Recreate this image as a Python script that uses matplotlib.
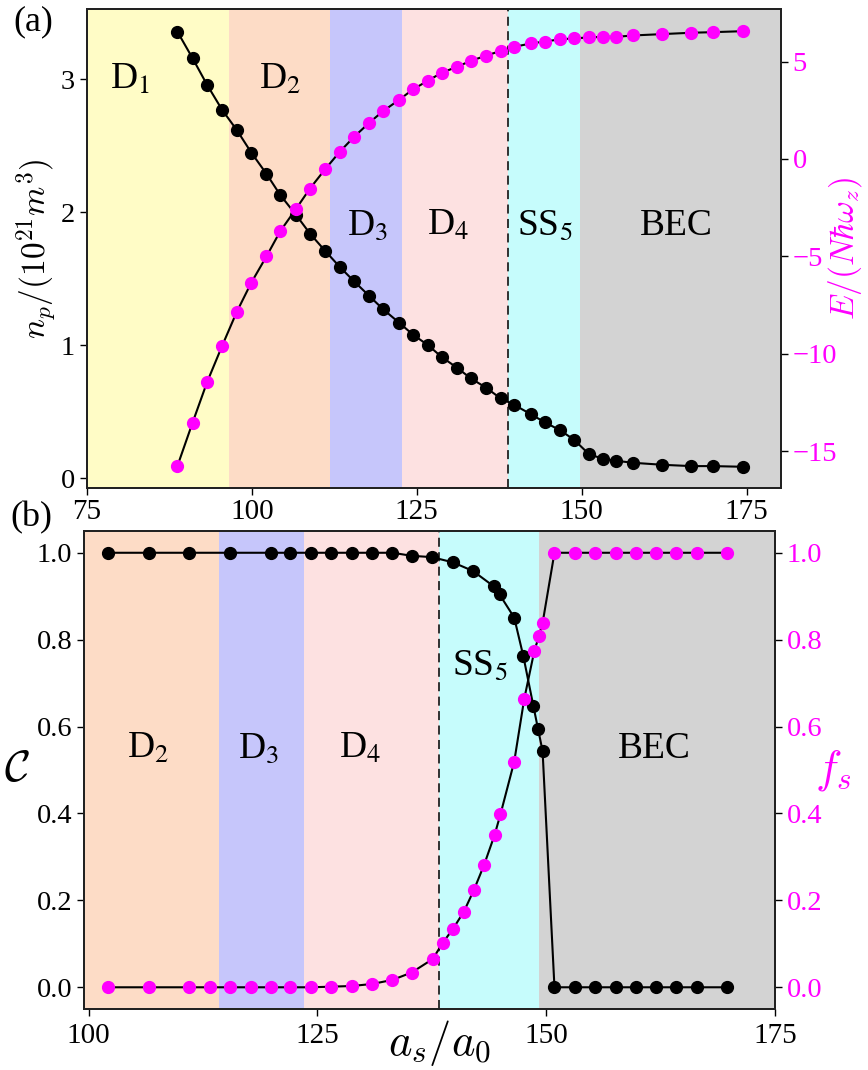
import matplotlib
matplotlib.use("Agg")
import matplotlib.pyplot as plt

plt.rcParams['font.family'] = ['Liberation Serif', 'DejaVu Serif']
plt.rcParams['mathtext.fontset'] = 'cm'

# [ DATA ]
# panel (a): scattering length, droplet density and energy
a_top = [88.7, 91.0, 93.2, 95.5, 97.7, 99.9, 102.2, 104.3, 106.7, 108.8, 111.1, 113.3,
         115.5, 117.8, 119.9, 122.3, 124.4, 126.7, 128.8, 131.1, 133.2, 135.5, 137.7, 139.8,
         142.3, 144.4, 146.7, 148.8, 151.1, 153.2, 155.2, 157.8, 162.2, 166.6, 169.9, 174.4]
n_p = [3.36, 3.16, 2.96, 2.77, 2.62, 2.45, 2.29, 2.13, 1.98, 1.84, 1.71, 1.59,
       1.48, 1.37, 1.27, 1.17, 1.08, 1.00, 0.91, 0.83, 0.75, 0.68, 0.60, 0.55,
       0.48, 0.42, 0.36, 0.29, 0.18, 0.145, 0.13, 0.115, 0.10, 0.09, 0.09, 0.085]
energy = [-15.78, -13.55, -11.47, -9.59, -7.86, -6.36, -5.01, -3.71, -2.56, -1.52, -0.53, 0.36,
          1.14, 1.86, 2.46, 3.03, 3.57, 4.02, 4.43, 4.73, 5.04, 5.30, 5.55, 5.76,
          5.93, 6.03, 6.14, 6.19, 6.24, 6.27, 6.27, 6.34, 6.41, 6.48, 6.51, 6.56]

# panel (b): contrast C and superfluid fraction f_s
a_C = [102.15, 106.6, 110.95, 115.4, 119.9, 122.05, 124.3, 126.5, 128.8, 131.0, 133.2,
       135.3, 137.5, 139.8, 142.0, 144.25, 144.9, 146.5, 147.5, 148.6, 149.1, 149.6,
       150.9, 153.1, 155.35, 157.6, 159.8, 162.0, 164.2, 166.5, 169.7]
contrast = [1.0, 1.0, 1.0, 1.0, 1.0, 1.0, 1.0, 1.0, 1.0, 1.0, 1.0,
            0.993, 0.990, 0.978, 0.958, 0.923, 0.904, 0.851, 0.762, 0.647, 0.595, 0.544,
            0.0, 0.0, 0.0, 0.0, 0.0, 0.0, 0.0, 0.0, 0.0]
a_f = [102.15, 106.6, 110.95, 113.25, 115.4, 117.7, 119.9, 122.05, 124.3,
       126.5, 128.8, 131.0, 133.2, 135.3, 137.6, 138.7, 139.8, 141.0, 142.1, 143.2,
       144.35, 145.0, 146.5, 147.6, 148.7, 149.2, 149.6,
       150.9, 153.1, 155.35, 157.6, 159.8, 162.0, 164.2, 166.5, 169.7]
f_s = [0.0, 0.0, 0.0, 0.0, 0.0, 0.0, 0.0, 0.0, 0.0,
       0.0014, 0.003, 0.0077, 0.017, 0.034, 0.065, 0.1025, 0.134, 0.174, 0.224, 0.281,
       0.35, 0.398, 0.519, 0.664, 0.774, 0.808, 0.838,
       1.0, 1.0, 1.0, 1.0, 1.0, 1.0, 1.0, 1.0, 1.0]

# phase regions (boundaries in a_s/a_0)
bounds_top = [75, 96.5, 111.8, 122.7, 138.8, 149.7, 180.2]
colors_top = ['#fffcc6', '#fddcc6', '#c6c6fb', '#fde1e1', '#c6fcfc', '#d3d3d3']
labels_top = ['D$_1$', 'D$_2$', 'D$_3$', 'D$_4$', 'SS$_5$', 'BEC']
label_pos_top = [(81.5, 3.0), (104.2, 3.0), (117.6, 1.9), (129.7, 1.9), (144.4, 1.9), (164.4, 1.9)]

bounds_bot = [99.5, 114.3, 123.5, 138.3, 149.2, 175]
colors_bot = ['#fddcc6', '#c6c6fb', '#fde1e1', '#c6fcfc', '#d3d3d3']
labels_bot = ['D$_2$', 'D$_3$', 'D$_4$', 'SS$_5$', 'BEC']
label_pos_bot = [(106.5, 0.55), (118.6, 0.55), (129.7, 0.55), (142.8, 0.74), (161.8, 0.55)]

MAG = '#ff00ff'
TICK_FS = 20.5

fig = plt.figure(figsize=(8.68, 10.7), dpi=100)


def style_axes(ax):
    for s in ax.spines.values():
        s.set_linewidth(1.4)
        s.set_color('#222222')
    ax.tick_params(direction='out', length=5, width=1.0, labelsize=TICK_FS)


# [ PANEL (a) ]
#=============================================================================
ax1 = fig.add_axes([0.1002, 0.5439, 0.7995, 0.4477])
for i in range(len(colors_top)):
    ax1.axvspan(bounds_top[i], bounds_top[i + 1], color=colors_top[i], lw=0, zorder=0)
ax1.axvline(bounds_top[4], color='#222222', ls=(0, (5, 3)), lw=1.3, zorder=1)
for txt, (x, y) in zip(labels_top, label_pos_top):
    ax1.text(x, y, txt, fontsize=27, ha='center', va='center', math_fontfamily='stix')

ax1.plot(a_top, n_p, '-o', color='black', ms=8.5, lw=1.5, zorder=3)
ax1.set_xlim(75, 180.2)
ax1.set_ylim(-0.075, 3.53)
ax1.set_xticks([75, 100, 125, 150, 175])
ax1.set_yticks([0, 1, 2, 3])
ax1.set_ylabel(r'$n_p/(10^{21}m^3)$', fontsize=24, labelpad=2)
style_axes(ax1)
ax1.tick_params(axis='x', labelsize=21, pad=3)

ax1r = ax1.twinx()
ax1r.plot(a_top, energy, '-', color='black', lw=1.5, zorder=2)
ax1r.plot(a_top, energy, 'o', color=MAG, ms=8.5, zorder=3)
ax1r.set_ylim(-16.9, 7.7)
ax1r.set_yticks([-15, -10, -5, 0, 5])
ax1r.set_ylabel(r'$E/(N\hbar\omega_z)$', fontsize=24, color=MAG, ha='center', va='center')
ax1r.yaxis.set_label_coords(1.092, 0.5)
style_axes(ax1r)
ax1r.tick_params(axis='y', labelcolor=MAG)
fig.text(0.015, 0.995, '(a)', fontsize=26, ha='left', va='top')

# [ PANEL (b) ]
#=============================================================================
ax2 = fig.add_axes([0.0968, 0.0570, 0.7961, 0.4467])
for i in range(len(colors_bot)):
    ax2.axvspan(bounds_bot[i], bounds_bot[i + 1], color=colors_bot[i], lw=0, zorder=0)
ax2.axvline(bounds_bot[3], color='#222222', ls=(0, (5, 3)), lw=1.3, zorder=1)
for txt, (x, y) in zip(labels_bot, label_pos_bot):
    ax2.text(x, y, txt, fontsize=27, ha='center', va='center', math_fontfamily='stix')

ax2.plot(a_C, contrast, '-o', color='black', ms=8.5, lw=1.5, zorder=3)
ax2.set_xlim(99.5, 175)
ax2.set_ylim(-0.05, 1.05)
ax2.set_xticks([100, 125, 150, 175])
ax2.set_yticks([0.0, 0.2, 0.4, 0.6, 0.8, 1.0])
ax2.set_ylabel(r'$\mathcal{C}$', fontsize=32, rotation=0, labelpad=14, va='center')
ax2.set_xlabel(r'$a_s/a_0$', fontsize=32, ha='center', va='center')
ax2.xaxis.set_label_coords(0.515, -0.072)
style_axes(ax2)
ax2.tick_params(axis='x', labelsize=21, pad=5)

ax2r = ax2.twinx()
ax2r.plot(a_f, f_s, '-', color='black', lw=1.5, zorder=2)
ax2r.plot(a_f, f_s, 'o', color=MAG, ms=8.5, zorder=3)
ax2r.set_ylim(-0.05, 1.05)
ax2r.set_yticks([0.0, 0.2, 0.4, 0.6, 0.8, 1.0])
ax2r.set_ylabel(r'$f_s$', fontsize=32, color=MAG, rotation=0, labelpad=8, va='center')
style_axes(ax2r)
ax2r.tick_params(axis='y', labelcolor=MAG)
fig.text(0.012, 0.532, '(b)', fontsize=26, ha='left', va='top')

fig.savefig('out.png', dpi=100)
